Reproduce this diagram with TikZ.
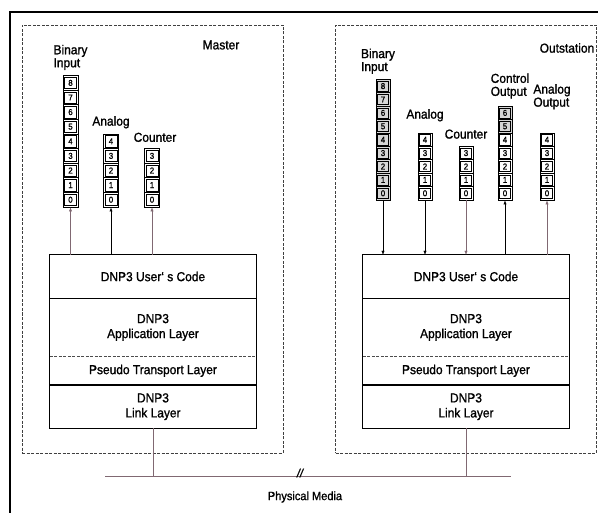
\documentclass[tikz,border=0pt]{standalone}
\usepackage{fontspec}
\setmainfont{Liberation Sans}[FakeStretch=0.92, FakeBold=1.2]
\usetikzlibrary{arrows.meta,positioning}
\definecolor{wire}{RGB}{128,104,114}

\begin{document}
\begin{tikzpicture}[
    x=1pt, y=-1pt,
    node distance=4pt,
    frame/.style={line width=1.3pt, black},
    zone/.style={draw=black!75, dash pattern=on 3pt off 1.5pt, line width=0.8pt,
        rectangle, inner sep=0pt, minimum width=261pt, minimum height=428pt},
    layer/.style={rectangle, minimum width=206pt, inner sep=0pt, align=center,
        font=\fontsize{13}{15}\selectfont},
    sep/.style={line width=1.1pt},
    cell/.style={rectangle, draw, line width=0.9pt, inner sep=0pt,
        font=\fontsize{8.5}{9}\selectfont,
        path picture={\draw[line width=0.5pt]
            ([shift={(1.6pt,1.6pt)}]path picture bounding box.south west) rectangle
            ([shift={(-1.6pt,-1.6pt)}]path picture bounding box.north east);}},
    mcell/.style={minimum width=15pt, minimum height=14.6pt},
    ocell/.style={minimum width=14pt, minimum height=13.4pt},
    lbl/.style={font=\fontsize{13}{13}\selectfont, inner sep=1pt, align=left},
    arr/.style={-{Latex[length=4pt, width=3.2pt]}, wire, thin},
    wireline/.style={wire, thin}
]
\useasboundingbox (0,0) rectangle (598,513);
% Outer frame
\draw[frame] (10,513) -- (10,12) -- (598,12);
% Stations
\node[zone] (mzone) at (152.5,239) {};
\node[zone] (ozone) at (466,239) {};
\node[lbl] (mtitle) at (221,45) {Master};
\node[lbl] (otitle) at (567,48) {Outstation};
% Protocol stacks
\foreach \s/\cx in {m/153, o/466} {
  \node[layer, minimum height=43pt] (\s code) at (\cx,276.5) {DNP3 User` s Code};
  \node[layer, minimum height=58pt, below=0pt of \s code] (\s app) {DNP3\\Application Layer};
  \node[layer, minimum height=28pt, below=0pt of \s app] (\s pt) {Pseudo Transport Layer};
  \node[layer, minimum height=43pt, below=0pt of \s pt] (\s link) {DNP3\\Link Layer};
  \draw[sep] (\s code.north west) rectangle (\s link.south east);
  \draw[sep] (\s code.south west) -- (\s code.south east);
  \draw[sep] (\s pt.south west) -- (\s pt.south east);
  \draw[draw=black!70, dash pattern=on 3pt off 1.5pt, line width=0.6pt]
    (\s app.south west) -- (\s app.south east);
}
% Master point registers
\foreach \nm/\cx/\hi in {mbin/70.5/8, mana/111/4, mcnt/152/3}
  \foreach \d in {0,...,\hi}
    \node[cell, mcell] (\nm\d) at (\cx,{199.7-\d*14.6}) {\d};
% Outstation point registers (shaded from \th up)
\foreach \nm/\cx/\hi/\th in {obin/383/8/0, oana/425/4/99, ocnt/466/3/99, octl/505/6/5, oaout/547/4/99}
  \foreach \d in {0,...,\hi} {
    \pgfmathtruncatemacro{\shd}{\d>=\th ? 16 : 0}
    \node[cell, ocell, fill=black!\shd] (\nm\d) at (\cx,{193.3-\d*13.4}) {\d};
  }
% Register labels
\node[lbl, above=4pt of mbin8] (lmbin) {Binary\\Input};
\node[lbl, above=4pt of mana4] (lmana) {Analog};
\node[lbl, above=5pt of mcnt3, xshift=3pt] (lmcnt) {Counter};
\node[lbl, above=4pt of obin8, xshift=-5pt] (lobin) {Binary\\Input};
\node[lbl, above=10pt of oana4] (loana) {Analog};
\node[lbl, above=6pt of ocnt3] (locnt) {Counter};
\node[lbl, above=6pt of octl6, xshift=5pt] (loctl) {Control\\Output};
\node[lbl, above=22pt of oaout4, xshift=5pt] (loaout) {Analog\\Output};
% Data flow
\draw[arr] (mbin0.south |- mcode.north) -- (mbin0.south);
\draw[arr, black, semithick] (mana0.south |- mcode.north) -- (mana0.south);
\draw[arr] (mcnt0.south |- mcode.north) -- (mcnt0.south);
\draw[arr, black] (obin0.south) -- (obin0.south |- ocode.north);
\draw[arr, black] (oana0.south) -- (oana0.south |- ocode.north);
\draw[arr] (ocnt0.south) -- (ocnt0.south |- ocode.north);
\draw[arr, black] (octl0.south |- ocode.north) -- (octl0.south);
\draw[arr] (oaout0.south |- ocode.north) -- (oaout0.south);
% Physical media
\coordinate (pl) at (105,476);
\coordinate (pr) at (511,476);
\draw[wireline] (pl) -- (pr);
\draw[wireline] (mlink.south) -- (mlink.south |- pl);
\draw[wireline] (olink.south) -- (olink.south |- pl);
\node[font=\fontsize{12}{12}\selectfont\itshape, inner sep=0pt] (brk) at (300,473) {//};
\node[lbl, font=\fontsize{12}{12}\selectfont] (media) at (305,497) {Physical Media};
\end{tikzpicture}
\end{document}
